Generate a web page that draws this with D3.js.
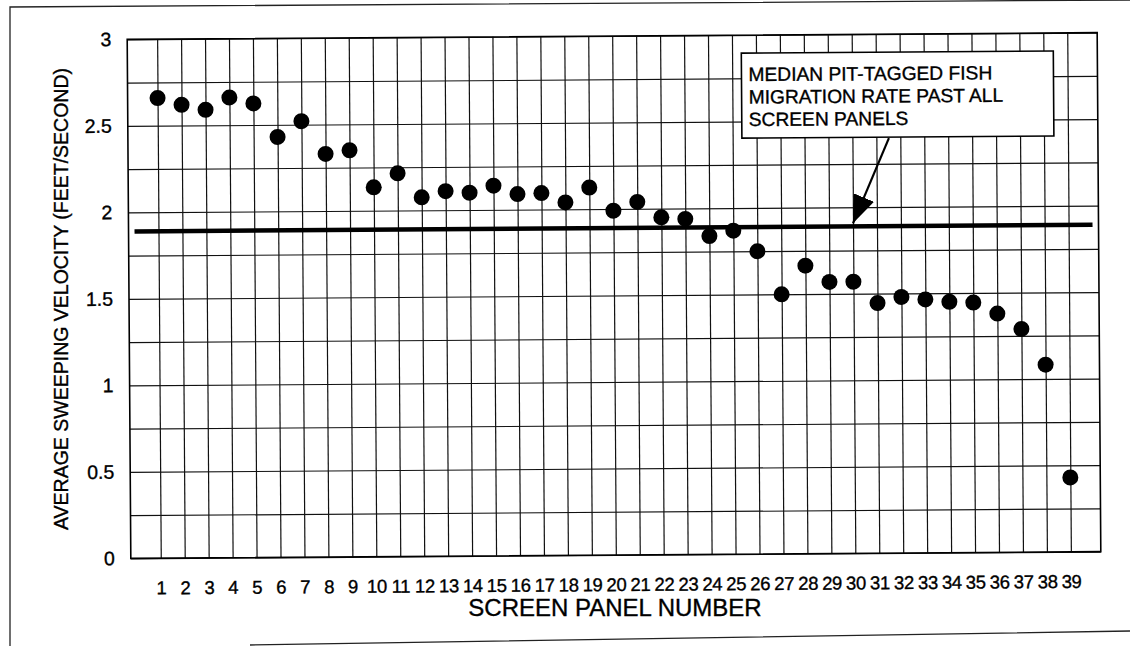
<!DOCTYPE html>
<html>
<head>
<meta charset="utf-8">
<script src="https://cdn.jsdelivr.net/npm/d3@7"></script>
<style>
  body { margin: 0; background: #fff; }
  svg { display: block; font-family: "Liberation Sans", Arial, sans-serif; }
  text { stroke: #000; stroke-width: 0.35px; }
</style>
</head>
<body>
<div id="chart"></div>
<script>
// data
const panels = [1, 2, 3, 4, 5, 6, 7, 8, 9, 10, 11, 12, 13, 14, 15, 16, 17, 18, 19, 20,
    21, 22, 23, 24, 25, 26, 27, 28, 29, 30, 31, 32, 33, 34, 35, 36, 37, 38, 39];
const velocity = [2.66, 2.62, 2.59, 2.66, 2.625, 2.43, 2.52, 2.33, 2.35, 2.135,
    2.215, 2.075, 2.11, 2.10, 2.14, 2.09, 2.095, 2.04, 2.125, 1.99,
    2.04, 1.95, 1.94, 1.84, 1.87, 1.75, 1.50, 1.665, 1.57, 1.57,
    1.446, 1.48, 1.465, 1.45, 1.445, 1.38, 1.29, 1.083, 0.43];
const medianRate = 1.89;
const medianSpan = [0, 40];
const yTickValues = [0, 0.5, 1, 1.5, 2, 2.5, 3];
const yGridValues = [0, 0.25, 0.5, 0.75, 1, 1.25, 1.5, 1.75, 2, 2.25, 2.5, 2.75, 3];
const noteLines = ["MEDIAN PIT-TAGGED FISH", "MIGRATION RATE PAST ALL", "SCREEN PANELS"];

const W = 1130, H = 646;
const margin = { top: 36, right: 31, bottom: 91, left: 129 },
    width = W - margin.left - margin.right,
    height = H - margin.top - margin.bottom;

const svg = d3.select("#chart").append("svg")
    .attr("width", W)
    .attr("height", H);

// page frame of the scan
svg.append("path")
    .attr("d", "M10,646 L10,7 L1130,0 M250,645 L1130,631")
    .attr("fill", "none")
    .attr("stroke", "#222")
    .attr("stroke-width", 1.3);

// the scan is tilted a little
const g = svg.append("g")
    .attr("transform", `rotate(-0.4 615 296) translate(${margin.left},${margin.top})`);

const x = d3.scaleLinear().domain([-0.25, 40.25]).range([0, width]);
const y = d3.scaleLinear().domain([0, 3]).range([height, 0]);

// grid
g.append("g")
    .call(d3.axisBottom(x).tickValues(panels).tickSize(height).tickFormat(""))
    .call(s => s.select(".domain").remove())
    .selectAll("line").attr("stroke", "#111").attr("stroke-width", 1.2);

g.append("g")
    .call(d3.axisLeft(y).tickValues(yGridValues).tickSize(-width).tickFormat(""))
    .call(s => s.select(".domain").remove())
    .selectAll("line").attr("stroke", "#111").attr("stroke-width", 1.2);

// tick labels
g.append("g")
    .call(d3.axisLeft(y).tickValues(yTickValues).tickSize(0).tickPadding(16).tickFormat(d3.format("")))
    .call(s => s.select(".domain").remove())
    .selectAll("text")
    .attr("font-size", 19.5)
    .attr("font-family", "Liberation Sans, Arial, sans-serif")
    .attr("fill", "#000");

g.append("g")
    .attr("transform", `translate(0,${height})`)
    .call(d3.axisBottom(x).tickValues(panels).tickSize(0).tickPadding(23))
    .call(s => s.select(".domain").remove())
    .selectAll("text")
    .attr("font-size", 18.5)
    .attr("letter-spacing", -0.3)
    .attr("font-family", "Liberation Sans, Arial, sans-serif")
    .attr("fill", "#000");

// plot border
g.append("rect")
    .attr("width", width)
    .attr("height", height)
    .attr("fill", "none")
    .attr("stroke", "#000")
    .attr("stroke-width", 1.6);

// median line
g.append("line")
    .attr("x1", x(medianSpan[0]))
    .attr("x2", x(medianSpan[1]))
    .attr("y1", y(medianRate))
    .attr("y2", y(medianRate))
    .attr("stroke", "#000")
    .attr("stroke-width", 4.5);

// points
g.selectAll(".dot")
    .data(velocity)
    .join("circle")
    .attr("class", "dot")
    .attr("cx", (d, i) => x(panels[i]))
    .attr("cy", d => y(d))
    .attr("r", 8)
    .attr("fill", "#000");

// annotation box
const note = g.append("g").attr("transform", "translate(614,18)");
note.append("rect")
    .attr("width", 312)
    .attr("height", 85)
    .attr("fill", "#fff")
    .attr("stroke", "#000")
    .attr("stroke-width", 1.6);
note.selectAll("text")
    .data(noteLines)
    .join("text")
    .attr("x", 7)
    .attr("y", (d, i) => 28 + i * 22.5)
    .attr("font-size", 19.2)
    .attr("fill", "#000")
    .text(d => d);

// arrow to the median line
svg.append("defs").append("marker")
    .attr("id", "head")
    .attr("markerUnits", "userSpaceOnUse")
    .attr("viewBox", "0 0 28 22")
    .attr("refX", 28)
    .attr("refY", 11)
    .attr("markerWidth", 28)
    .attr("markerHeight", 22)
    .attr("orient", "auto")
    .append("path")
    .attr("d", "M0,0 L28,11 L0,22 Z")
    .attr("fill", "#000");

g.append("line")
    .attr("x1", 761)
    .attr("y1", 104)
    .attr("x2", x(30))
    .attr("y2", y(medianRate) - 3)
    .attr("stroke", "#000")
    .attr("stroke-width", 2.2)
    .attr("marker-end", "url(#head)");

// axis titles
svg.append("text")
    .attr("transform", "translate(68,299) rotate(-90)")
    .attr("text-anchor", "middle")
    .attr("font-size", 19.5)
    .attr("fill", "#000")
    .text("AVERAGE SWEEPING VELOCITY (FEET/SECOND)");

svg.append("text")
    .attr("x", 615)
    .attr("y", 616)
    .attr("text-anchor", "middle")
    .attr("font-size", 24)
    .attr("fill", "#000")
    .text("SCREEN PANEL NUMBER");
</script>
</body>
</html>
